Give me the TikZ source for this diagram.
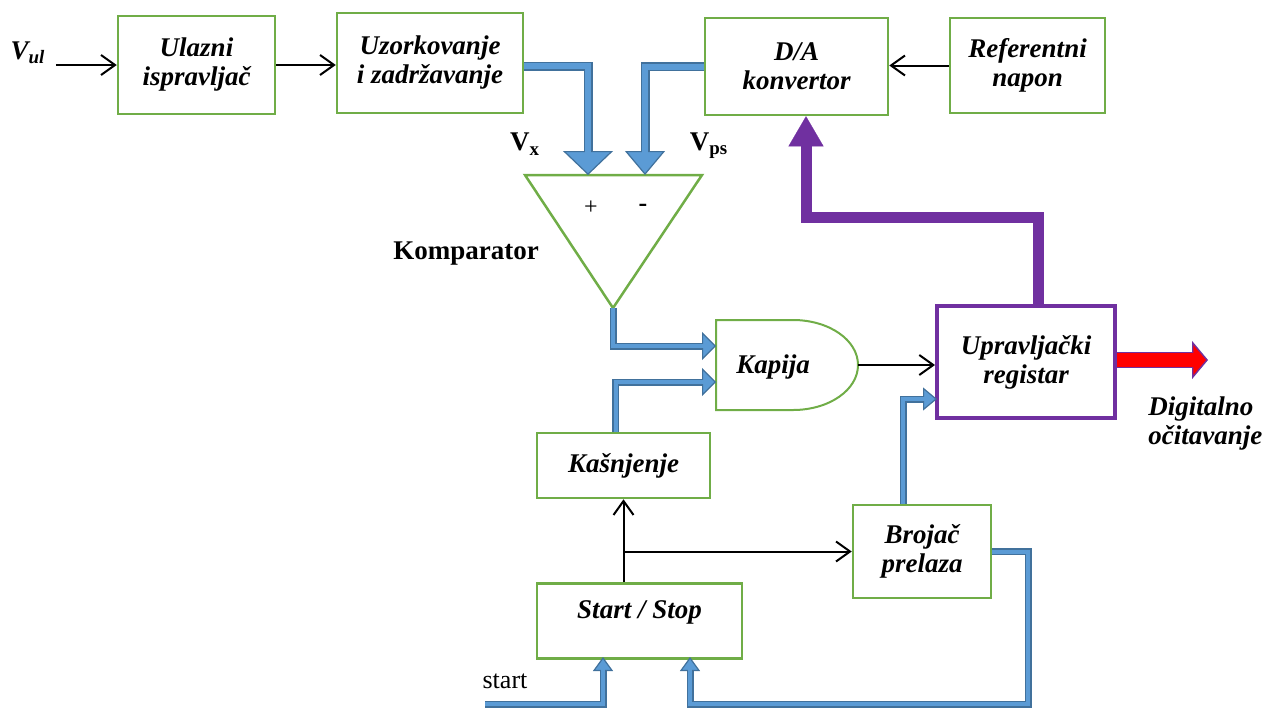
\documentclass[tikz,border=0pt]{standalone}
\usepackage{fontspec}
\setmainfont{Liberation Serif}
\usetikzlibrary{arrows.meta}
\definecolor{boxgreen}{RGB}{112,173,71}
\definecolor{pipefill}{RGB}{91,155,213}
\definecolor{pipeedge}{RGB}{65,113,156}
\definecolor{regpurple}{RGB}{112,48,160}
\definecolor{outred}{RGB}{255,0,0}

\tikzset{
  blk/.style={draw=boxgreen, line width=1.25pt, align=center, inner sep=0pt,
    font=\fontsize{13.5}{14.5}\selectfont\bfseries\itshape},
  lbl/.style={inner sep=0pt, font=\fontsize{13.5}{14.5}\selectfont\bfseries\itshape},
  vlbl/.style={inner sep=0pt, font=\fontsize{13.5}{16}\selectfont\bfseries},
  conn/.style={line width=1pt, -{Straight Barb[length=7pt,width=10pt,line width=1pt]}},
  bigpipe/.style={draw=pipeedge, line width=4.5pt,
    -{Triangle[width=#1,length=12pt,line width=0.6pt,fill=pipefill]},
    postaction={draw=pipefill, line width=3pt, arrows=-, shorten >=10pt}},
  pipe/.style={draw=pipeedge, line width=3.5pt,
    -{Triangle[width=#1,length=7pt,line width=0.6pt,fill=pipefill]},
    postaction={draw=pipefill, line width=2pt, arrows=-, shorten >=5.5pt}},
  regpipe/.style={draw=regpurple, line width=5.5pt,
    -{Triangle[width=17.5pt,length=15pt,line width=0.1pt,fill=regpurple]}},
  outpipe/.style={draw=regpurple, line width=8pt,
    -{Triangle[width=19pt,length=8pt,line width=0.7pt,fill=outred]},
    postaction={draw=outred, line width=6.6pt, arrows=-, shorten >=7pt}},
}

\begin{document}
\begin{tikzpicture}[x=0.5pt, y=-0.5pt]
  \useasboundingbox (0,0) rectangle (1262,707);

  % top row
  \node[lbl, inner xsep=5pt] (vul) at (28,53) {V\textsubscript{ul}};
  \node[blk, minimum width=78.5pt, minimum height=49pt] (uli) at (196.5,65) {Ulazni\\ispravljač};
  \node[blk, minimum width=93pt, minimum height=50pt] (uz) at (430,63) {Uzorkovanje\\i zadržavanje};
  \node[blk, minimum width=91.5pt, minimum height=48.5pt] (da) at (796.5,66.5) {D/A\\konvertor};
  \node[blk, minimum width=77.5pt, minimum height=47.5pt] (ref) at (1027.5,65.5) {Referentni\\napon};

  \draw[conn] (vul.east |- uli.west) -- (uli.west);
  \draw[conn] (uli.east) -- (uli.east -| uz.west);
  \draw[conn] (ref.west) -- (ref.west -| da.east);

  % comparator
  \coordinate (cl) at (525,175);
  \coordinate (cr) at (702,175);
  \coordinate (cb) at (613,308);
  \coordinate (inp) at (588,175);
  \coordinate (inm) at (645,175);
  \draw[draw=boxgreen, line width=1.25pt] (cl) -- (cr) -- (cb) -- cycle;
  \node[inner sep=0pt, font=\fontsize{12}{14}\selectfont] (plus) at (591,208) {+};
  \node[inner sep=0pt, font=\fontsize{13}{14}\selectfont\bfseries] (minus) at (643,208) {-};
  \node[vlbl] (vx) at (525,144) {V\textsubscript{x}};
  \node[vlbl] (vps) at (709,146) {V\textsubscript{ps}};
  \node[vlbl] (komp) at (466,254) {Komparator};

  \draw[bigpipe=25pt] ([yshift=-1.5pt]uz.east) -| (inp);
  \draw[bigpipe=20pt] (da.west) -| (inm);

  % gate
  \coordinate (kin1) at (716,346);
  \coordinate (kin2) at (716,382);
  \coordinate (kout) at (858,365);
  \draw[draw=boxgreen, line width=1pt] (716,320) -- (793,320)
    .. controls (829,320) and (858,340) .. (kout)
    .. controls (858,390) and (829,410) .. (793,410) -- (716,410) -- cycle;
  \node[lbl] (kap) at (773,367) {Kapija};

  % register
  \node[blk, draw=regpurple, line width=2pt, minimum width=89pt, minimum height=56pt] (reg) at (1026,362) {Upravljački\\registar};
  \draw[conn] (kout) -- (kout -| reg.west);

  \coordinate (pb) at (806,217);
  \draw[regpipe] ([xshift=6pt]reg.north) |- (pb) -- (pb |- da.south);

  \coordinate (dout) at (1208,360);
  \draw[outpipe] (reg.east |- dout) -- (dout);
  \node[lbl, anchor=west, align=left] (dig) at (1148,423) {Digitalno\\očitavanje};

  % lower part
  \node[blk, minimum width=86.5pt, minimum height=32.5pt] (kas) at (623.5,465.5) {Kašnjenje};
  \node[blk, minimum width=69pt, minimum height=46.5pt] (broj) at (922,551.5) {Brojač\\prelaza};
  \node[blk, anchor=north, minimum width=102.5pt, text height=17.5pt, text depth=20pt] (ss) at (639.5,582) {Start / Stop};

  \draw[pipe=14pt] (cb) |- (kin1);
  \draw[pipe=14pt] ([xshift=-4pt]kas.north) |- (kin2);

  \draw[conn] (kas.south |- ss.north) -- (kas.south);
  \coordinate (split) at (kas.south |- broj.west);
  \draw[conn] (split) -- (broj.west);

  \coordinate (rin) at (937,399);
  \draw[pipe=11.5pt] ([xshift=-9.5pt]broj.north) |- (rin);

  \coordinate (loop) at (1028,704);
  \coordinate (ssin2) at (690,657);
  \draw[pipe=10pt] (broj.east) -| (loop) -| (ssin2);

  \coordinate (startin) at (485,704);
  \coordinate (ssin1) at (603,657);
  \draw[pipe=10pt] (startin) -| (ssin1);
  \node[inner sep=0pt, font=\fontsize{13}{15}\selectfont] (startlbl) at (505,681) {start};
\end{tikzpicture}
\end{document}
